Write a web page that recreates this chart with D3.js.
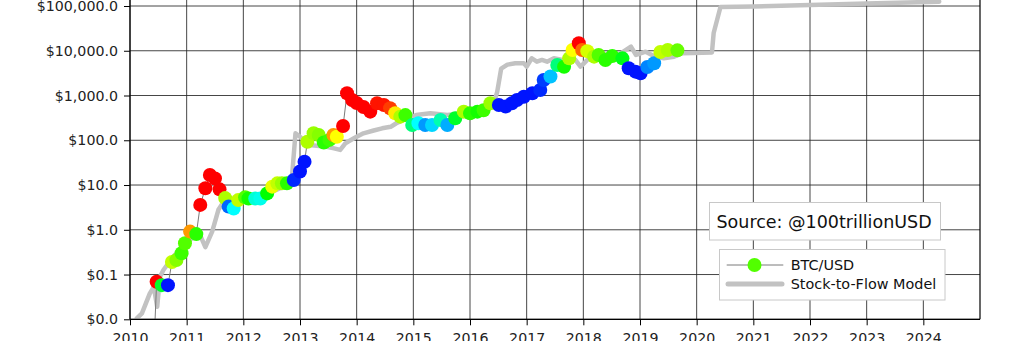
<!DOCTYPE html>
<html>
<head>
<meta charset="utf-8">
<script src="https://cdn.jsdelivr.net/npm/d3@7"></script>
<style>
  html, body { margin: 0; padding: 0; background: #fff; }
  svg { display: block; font-family: "DejaVu Sans", sans-serif; }
</style>
</head>
<body>
<svg id="chart" width="1024" height="341"></svg>
<script>
// ---------------- DATA ----------------
const yearTicks = [2010, 2011, 2012, 2013, 2014, 2015, 2016, 2017, 2018, 2019, 2020, 2021, 2022, 2023, 2024];
const priceTicks = [0.01, 0.1, 1, 10, 100, 1000, 10000, 100000];

const btcYear = [2010.43, 2010.47, 2010.56, 2010.67, 2010.74, 2010.82, 2010.91, 2010.97, 2011.06, 2011.17,
  2011.24, 2011.33, 2011.41, 2011.50, 2011.58, 2011.68, 2011.74, 2011.83, 2011.91, 2012.03,
  2012.09, 2012.21, 2012.30, 2012.42, 2012.51, 2012.60, 2012.68, 2012.77, 2012.89, 2013.00,
  2013.08, 2013.13, 2013.24, 2013.33, 2013.42, 2013.52, 2013.59, 2013.65, 2013.76, 2013.83,
  2013.92, 2014.00, 2014.12, 2014.24, 2014.36, 2014.48, 2014.59, 2014.68, 2014.77, 2014.86,
  2014.98, 2015.09, 2015.21, 2015.33, 2015.48, 2015.60, 2015.74, 2015.89, 2016.00, 2016.13,
  2016.24, 2016.36, 2016.51, 2016.63, 2016.74, 2016.83, 2016.95, 2017.10, 2017.24, 2017.30,
  2017.42, 2017.54, 2017.66, 2017.75, 2017.81, 2017.92, 2017.98, 2018.07, 2018.19, 2018.27,
  2018.39, 2018.51, 2018.69, 2018.80, 2018.92, 2019.01, 2019.13, 2019.25, 2019.36, 2019.49,
  2019.66];
const btcPrice = [0.004, 0.069, 0.058, 0.058, 0.19, 0.21, 0.30, 0.5, 0.91, 0.8,
  3.6, 8.5, 16.8, 14, 8, 5.1, 3.3, 3.0, 4.6, 5.3,
  5.0, 5.0, 5.0, 6.5, 9.2, 10.9, 10.9, 10.9, 13, 20,
  33, 93, 143, 131, 89, 102, 131, 120, 209, 1122,
  795, 681, 555, 436, 671, 616, 519, 401, 337, 365,
  220, 240, 220, 220, 284, 220, 310, 436, 400, 436,
  470, 671, 616, 566, 671, 794, 942, 1122, 1330, 2228,
  2650, 4800, 4400, 6770, 10400, 14700, 10400, 9800, 7380, 8050,
  6220, 7650, 6770, 4060, 3410, 3140, 4340, 5250, 9400, 10400,
  10200];
// colour value 0 (blue) .. 1 (red)
const btcColorValue = [1, 1, 0.46, 0.02, 0.69, 0.63, 0.56, 0.58, 0.85, 0.54,
  1, 1, 1, 1, 1, 0.67, 0.10, 0.25, 0.69, 0.58,
  0.52, 0.29, 0.27, 0.5, 0.73, 0.69, 0.65, 0.54, 0.04, 0.02,
  0.02, 0.67, 0.65, 0.63, 0.54, 0.56, 0.85, 0.75, 1, 1,
  1, 1, 1, 1, 0.98, 0.98, 0.94, 0.77, 0.67, 0.56,
  0.38, 0.25, 0.15, 0.21, 0.33, 0.17, 0.46, 0.67, 0.54, 0.52,
  0.56, 0.65, 0.02, 0.02, 0.02, 0.02, 0.02, 0.02, 0.04, 0.06,
  0.19, 0.38, 0.52, 0.67, 0.75, 1, 0.9, 0.71, 0.67, 0.58,
  0.54, 0.54, 0.48, 0.02, 0.02, 0.02, 0.13, 0.15, 0.69, 0.67,
  0.6];

const s2fYear = [2010.12, 2010.21, 2010.35, 2010.42, 2010.48, 2010.53, 2010.59, 2010.76, 2010.94, 2011.09,
  2011.21, 2011.33, 2011.45, 2011.56, 2011.65, 2011.77, 2012.0, 2012.3, 2012.5, 2012.7,
  2012.85, 2012.92, 2013.0, 2013.15, 2013.3, 2013.45, 2013.6, 2013.71, 2013.8, 2013.89,
  2014.0, 2014.12, 2014.3, 2014.45, 2014.6, 2014.7, 2014.82, 2015.05, 2015.3, 2015.6,
  2015.85, 2016.0, 2016.2, 2016.42, 2016.48, 2016.55, 2016.66, 2016.8, 2016.95, 2017.0,
  2017.09, 2017.18, 2017.27, 2017.36, 2017.48, 2017.63, 2017.75, 2017.86, 2017.95, 2018.01,
  2018.07, 2018.25, 2018.48, 2018.66, 2018.84, 2018.93, 2019.1, 2019.27, 2019.42, 2019.6,
  2019.75, 2020.27, 2020.30, 2020.42, 2021.0, 2022.0, 2023.0, 2024.28];
const s2fValue = [0.0105, 0.0136, 0.038, 0.053, 0.019, 0.09, 0.126, 0.25, 0.42, 0.64,
  0.91, 0.41, 0.91, 2.8, 4.2, 5.1, 4.4, 5.1, 7.0, 9.1,
  11, 143, 120, 78, 75, 72, 66, 61, 85, 100,
  120, 143, 165, 185, 200, 240, 280, 365, 400, 365,
  400, 365, 470, 670, 1200, 4000, 4900, 5250, 5250, 4430,
  6800, 5700, 6220, 5700, 6800, 6220, 7380, 6220, 4430, 5250,
  6220, 8790, 8050, 8790, 12400, 8050, 9550, 7380, 6800, 7380,
  8800, 9200, 25000, 95000, 98000, 105000, 113000, 125000];

// ---------------- CHART ----------------
const svg = d3.select("#chart");
const plotLeft = 130, plotRight = 980, plotTop = 6, plotBottom = 319.3;

const x = d3.scaleLinear().domain([2010, 2025]).range([plotLeft, plotRight]);
const y = d3.scaleLog().domain([0.01, 100000]).range([plotBottom, plotTop]);
const hue = d3.scaleLinear().domain([0, 1]).range([240, 0]);
const colorOf = v => d3.hsl(hue(v), 1, 0.5).formatHex();

// grid
const grid = svg.append("g");
grid.selectAll("line.gx").data(yearTicks).join("line")
  .attr("x1", d => x(d)).attr("x2", d => x(d))
  .attr("y1", 0).attr("y2", plotBottom)
  .attr("stroke", "#262626").attr("stroke-width", 1).attr("opacity", 0.85);
grid.selectAll("line.gy").data(priceTicks).join("line")
  .attr("x1", plotLeft).attr("x2", plotRight)
  .attr("y1", d => y(d)).attr("y2", d => y(d))
  .attr("stroke", "#262626").attr("stroke-width", 1).attr("opacity", 0.85);

// clip
svg.append("clipPath").attr("id", "plotclip")
  .append("rect").attr("x", plotLeft).attr("y", -20).attr("width", plotRight - plotLeft).attr("height", plotBottom + 20);

const plot = svg.append("g").attr("clip-path", "url(#plotclip)");

const s2f = s2fYear.map((d, i) => ({ x: d, v: s2fValue[i] }));
const btc = btcYear.map((d, i) => ({ x: d, v: btcPrice[i], c: btcColorValue[i] }));

const line = d3.line().x(d => x(d.x)).y(d => y(d.v));

plot.append("path").datum(s2f)
  .attr("d", line)
  .attr("fill", "none").attr("stroke", "#c2c2c2").attr("stroke-width", 4.5)
  .attr("stroke-linejoin", "round").attr("stroke-linecap", "round");

plot.append("path").datum(btc)
  .attr("d", line)
  .attr("fill", "none").attr("stroke", "#7a7a7a").attr("stroke-width", 1);

plot.selectAll("circle.btc").data(btc).join("circle")
  .attr("class", "btc")
  .attr("cx", d => x(d.x)).attr("cy", d => y(d.v)).attr("r", 7)
  .attr("fill", d => colorOf(d.c));

// right spine
svg.append("line").attr("x1", plotRight).attr("x2", plotRight).attr("y1", 0).attr("y2", plotBottom)
  .attr("stroke", "#000").attr("stroke-width", 1.2);

// axes
const fmt = d3.format("$,.1f");
const yAxis = d3.axisLeft(y).tickValues(priceTicks).tickFormat(fmt).tickSize(6).tickPadding(6);
const gy = svg.append("g").attr("transform", `translate(${plotLeft},0)`).call(yAxis);
gy.select(".domain").attr("d", `M0,0V${plotBottom}`).attr("stroke", "#000").attr("stroke-width", 1.2);

const xAxis = d3.axisBottom(x).tickValues(yearTicks).tickFormat(d3.format("d")).tickSize(6).tickPadding(8);
const gx = svg.append("g").attr("transform", `translate(0,${plotBottom})`).call(xAxis);
gx.select(".domain").attr("d", `M${plotLeft},0H${plotRight}`).attr("stroke", "#000").attr("stroke-width", 1.2);

[gy, gx].forEach(g => {
  g.selectAll("text").attr("font-family", "DejaVu Sans").attr("font-size", 14.2).attr("fill", "#222");
  g.selectAll(".tick line").attr("stroke", "#000");
});

// source box
const src = svg.append("g");
src.append("rect").attr("x", 709.5).attr("y", 202.5).attr("width", 231).attr("height", 37.5)
  .attr("fill", "#fff").attr("stroke", "#c8c8c8").attr("stroke-width", 1);
src.append("text").attr("x", 716.5).attr("y", 227.5)
  .attr("font-size", 17.5).attr("fill", "#111").text("Source: @100trillionUSD");

// legend
const lg = svg.append("g");
lg.append("rect").attr("x", 719.5).attr("y", 249.5).attr("width", 225.5).attr("height", 50.5)
  .attr("fill", "#fff").attr("stroke", "#c8c8c8").attr("stroke-width", 1);
lg.append("line").attr("x1", 726.7).attr("x2", 783.3).attr("y1", 265).attr("y2", 265)
  .attr("stroke", "#7a7a7a").attr("stroke-width", 1);
lg.append("circle").attr("cx", 754.5).attr("cy", 265).attr("r", 7).attr("fill", colorOf(0.58));
lg.append("text").attr("x", 790.7).attr("y", 270).attr("font-size", 14.4).attr("fill", "#111").text("BTC/USD");
lg.append("line").attr("x1", 728).attr("x2", 782).attr("y1", 284).attr("y2", 284)
  .attr("stroke", "#c2c2c2").attr("stroke-width", 5).attr("stroke-linecap", "round");
lg.append("text").attr("x", 790.7).attr("y", 289).attr("font-size", 14.4).attr("fill", "#111").text("Stock-to-Flow Model");
</script>
</body>
</html>
